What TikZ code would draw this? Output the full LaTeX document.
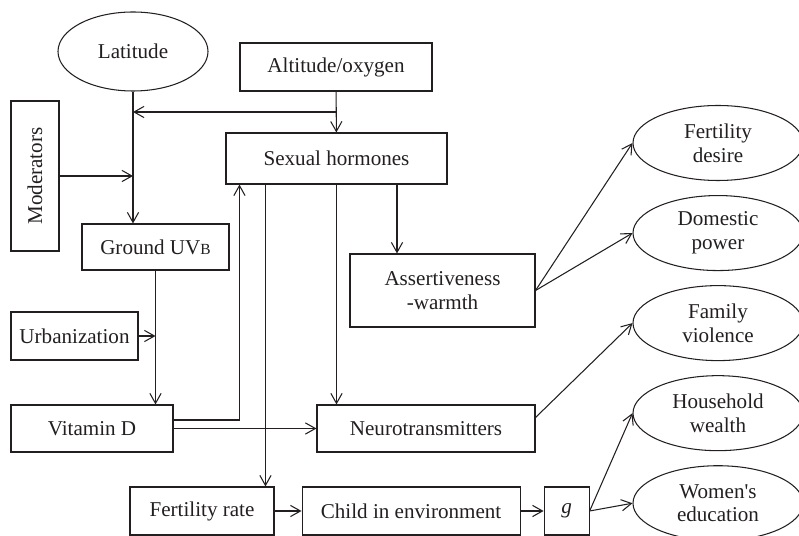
\documentclass[tikz,border=0pt]{standalone}
\usepackage{fontspec}
\setmainfont{Liberation Serif}
\usepackage{xcolor}
\usepackage{tikz}
\usetikzlibrary{arrows.meta,positioning,calc,shapes.geometric}
\definecolor{ink}{HTML}{231F20}
\tikzset{
  every node/.style={font=\fontsize{15}{17}\selectfont,text=ink},
  box/.style={draw=ink,line width=0.75pt,rectangle,align=center,inner sep=0pt},
  oval/.style={draw=ink,line width=0.75pt,ellipse,align=center,inner sep=0pt,minimum width=42.5mm,minimum height=18.75mm},
  arrow/.style={-{Straight Barb[length=2.5mm,width=2.8mm]},line width=0.75pt,draw=ink}
}
\begin{document}
\begin{tikzpicture}[x=0.25mm,y=-0.25mm,node distance=3.5mm and 6.75mm]
  \useasboundingbox (0,0) rectangle (799,536);

  % left column
  \node[oval,minimum width=37.5mm,minimum height=19.75mm] (lat) at (133,51.5) {Latitude};
  \node[box,minimum width=48mm,minimum height=12mm] (alt) at (336,67) {Altitude/oxygen};
  \node[box,rotate=90,minimum width=37.5mm,minimum height=12mm] (mod) at (35,176) {Moderators};
  \node[box,minimum width=55.25mm,minimum height=12.75mm] (sex) at (336.5,158.5) {Sexual hormones};
  \node[box,minimum width=36.75mm,minimum height=11.5mm] (uvb) at (155.5,247) {Ground UV{\fontsize{11}{11}\selectfont B}};
  \node[box,minimum width=46.25mm,minimum height=18.25mm] (asw) at (442.5,290.5) {Assertiveness\\-warmth};
  \node[box,minimum width=31.75mm,minimum height=12mm] (urb) at (74.5,336) {Urbanization};
  \node[box,minimum width=40.5mm,minimum height=11.75mm] (vitd) at (92,428.5) {Vitamin D};
  \node[box,minimum width=54.5mm,minimum height=11.75mm] (neuro) at (426,428.5) {Neurotransmitters};

  % bottom row
  \node[box,minimum width=36mm,minimum height=12mm] (fert) at (202,511) {Fertility rate};
  \node[box,minimum width=54.5mm,minimum height=12mm,right=of fert] (child) {Child in environment};
  \node[box,minimum width=11.25mm,minimum height=12mm,right=5.75mm of child] (g) {\textit{g}};

  % outcomes
  \node[oval] (fd) at (718,143) {Fertility\\desire};
  \node[oval,below=of fd] (dp) {Domestic\\power};
  \node[oval,below=of dp] (fv) {Family\\violence};
  \node[oval,below=of fv] (hw) {Household\\wealth};
  \node[oval,below=of hw] (we) {Women\textquotesingle s\\education};

  \draw[arrow] (lat.south) -- (lat.south |- uvb.north);
  \draw[arrow] (alt) -- (sex);
  \coordinate (mid) at ($(alt.south)!0.5!(sex.north)$);
  \draw[arrow] (mid) -- (mid -| lat.south);
  \draw[arrow] (mod.south) -- (mod.south -| lat.south);
  \draw[arrow] (uvb.south) -- (uvb.south |- vitd.north);
  \draw[arrow] (urb) -- (urb -| uvb.south);
  \draw[arrow] ($(vitd.east)+(0,-8.5)$) -| ($(sex.south west)+(14,0)$);
  \draw[arrow] (vitd) -- (neuro);
  \coordinate (s1) at ($(sex.south west)+(40,0)$);
  \draw[arrow] (s1) -- (s1 |- fert.north);
  \draw[arrow] (sex.south) -- (sex.south |- neuro.north);
  \coordinate (s3) at ($(sex.south)+(60.5,0)$);
  \draw[arrow] (s3) -- (s3 |- asw.north);
  \draw[arrow] (fert) -- (child);
  \draw[arrow] (child) -- (g);
  \draw[arrow] (asw.east) -- (fd.west);
  \draw[arrow] (asw.east) -- (dp.west);
  \draw[arrow] ($(neuro.east)+(0,-11)$) -- (fv.west);
  \draw[arrow] (g.east) -- (hw.west);
  \draw[arrow] (g.east) -- (we.west);
\end{tikzpicture}
\end{document}
